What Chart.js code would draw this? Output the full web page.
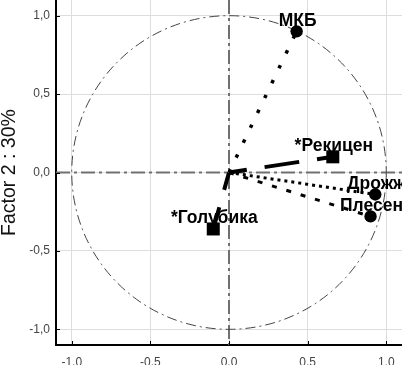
<!DOCTYPE html>
<html>
<head>
<meta charset="utf-8">
<script src="https://cdn.jsdelivr.net/npm/chart.js@4"></script>
<style>
  body { margin: 0; background: #fff; }
  #wrap { width: 402px; height: 365px; }
</style>
</head>
<body>
<div id="wrap"><canvas id="chart" width="402" height="365"></canvas></div>
<script>
// --- DATA ---
const names = ["МКБ", "Дрожж", "Плесен", "*Рекицен", "*Голубика"];
const factor1 = [0.43, 0.93, 0.90, 0.66, -0.10];
const factor2 = [0.90, -0.14, -0.28, 0.10, -0.36];
const markers = ["circle", "circle", "circle", "rect", "rect"];
const tickVals = [-1.0, -0.5, 0.0, 0.5, 1.0];
const axisMin = -1.1, axisMax = 1.1;
const circleRadius = 1.0;
const yTitle = "Factor 2 : 30%";

// line styles per vector
const dashes = [[3.5, 13], [3, 4], [5, 10], [35, 18, 18, 18], [35, 18, 18, 18]];
const widths = [3.5, 3, 3, 4, 4];

const FONT = "'Liberation Sans', Arial, sans-serif";

const datasets = names.map((name, i) => ({
    label: name,
    data: [{ x: 0, y: 0 }, { x: factor1[i], y: factor2[i] }],
    showLine: true,
    borderColor: "#000",
    backgroundColor: "#000",
    borderWidth: widths[i],
    borderDash: dashes[i],
    borderDashOffset: i >= 3 ? 53 : 0,
    borderCapStyle: "butt",
    pointStyle: markers[i],
    pointRadius: [0, markers[i] === "rect" ? 9.2 : 6.2],
    pointHoverRadius: 0,
    pointBorderWidth: 0,
    clip: false
}));

const fmt = v => v.toFixed(1).replace(".", ",");

function noPad(s) {
    s.paddingLeft = 0; s.paddingRight = 0;
    s.paddingTop = 0; s.paddingBottom = 0;
}

// --- REFERENCE LINES (zero axes, unit circle) ---
const refLines = {
    id: "refLines",
    beforeDatasetsDraw(chart) {
        const { ctx, chartArea: a, scales: { x, y } } = chart;
        const x0 = x.getPixelForValue(0), y0 = y.getPixelForValue(0);
        ctx.save();
        ctx.strokeStyle = "#707070";
        ctx.lineWidth = 2;
        ctx.setLineDash([14, 4, 3, 4]);
        ctx.beginPath();
        ctx.moveTo(a.left, y0); ctx.lineTo(a.right, y0);
        ctx.moveTo(x0, a.top); ctx.lineTo(x0, a.bottom);
        ctx.stroke();

        const rx = x.getPixelForValue(circleRadius) - x0;
        const ry = y0 - y.getPixelForValue(circleRadius);
        ctx.strokeStyle = "#444";
        ctx.lineWidth = 1;
        ctx.setLineDash([10, 4, 2, 4]);
        ctx.beginPath();
        ctx.ellipse(x0, y0, rx, ry, 0, 0, Math.PI * 2);
        ctx.stroke();
        ctx.restore();
    },
    afterDraw(chart) {
        const { ctx, chartArea: a, scales: { x, y } } = chart;
        ctx.save();
        ctx.strokeStyle = "#000";
        ctx.lineWidth = 1;
        ctx.beginPath();
        tickVals.forEach(v => {
            const py = Math.round(y.getPixelForValue(v)) + 0.5;
            ctx.moveTo(a.left, py); ctx.lineTo(a.left + 4, py);
            const px = Math.round(x.getPixelForValue(v)) + 0.5;
            ctx.moveTo(px, a.bottom); ctx.lineTo(px, a.bottom - 4);
        });
        ctx.stroke();
        ctx.restore();
    }
};

// --- POINT LABELS ---
const pointLabels = {
    id: "pointLabels",
    afterDatasetsDraw(chart) {
        const { ctx, scales: { x, y } } = chart;
        ctx.save();
        ctx.font = "bold 17.5px " + FONT;
        ctx.fillStyle = "#000";
        ctx.textAlign = "center";
        ctx.textBaseline = "alphabetic";
        names.forEach((name, i) => {
            const px = x.getPixelForValue(factor1[i]);
            const py = y.getPixelForValue(factor2[i]);
            ctx.fillText(name, px + 1, py - 5.5);
        });
        ctx.restore();
    }
};

new Chart(document.getElementById("chart"), {
    type: "scatter",
    data: { datasets },
    options: {
        responsive: false,
        animation: false,
        layout: { padding: 0, autoPadding: false },
        plugins: { legend: { display: false }, tooltip: { enabled: false } },
        scales: {
            x: {
                type: "linear",
                min: axisMin, max: axisMax,
                afterBuildTicks: s => { s.ticks = tickVals.map(v => ({ value: v })); },
                afterFit: s => { s.height = 20; noPad(s); },
                grid: { color: "#dddddd", lineWidth: 1, drawTicks: false },
                border: { display: true, color: "#000", width: 2 },
                ticks: {
                    padding: 10,
                    color: "#444",
                    font: { family: FONT, size: 12 },
                    callback: fmt,
                    maxRotation: 0
                }
            },
            y: {
                type: "linear",
                min: axisMin, max: axisMax,
                afterBuildTicks: s => { s.ticks = tickVals.map(v => ({ value: v })); },
                afterFit: s => { s.width = 56; noPad(s); },
                grid: { color: "#dddddd", lineWidth: 1, drawTicks: false },
                border: { display: true, color: "#000", width: 2 },
                ticks: {
                    padding: 6,
                    color: "#444",
                    font: { family: FONT, size: 12 },
                    callback: fmt
                },
                title: {
                    display: true,
                    text: yTitle,
                    color: "#111",
                    padding: 0,
                    font: { family: FONT, size: 19.5, lineHeight: 1 }
                }
            }
        }
    },
    plugins: [refLines, pointLabels]
});
</script>
</body>
</html>
